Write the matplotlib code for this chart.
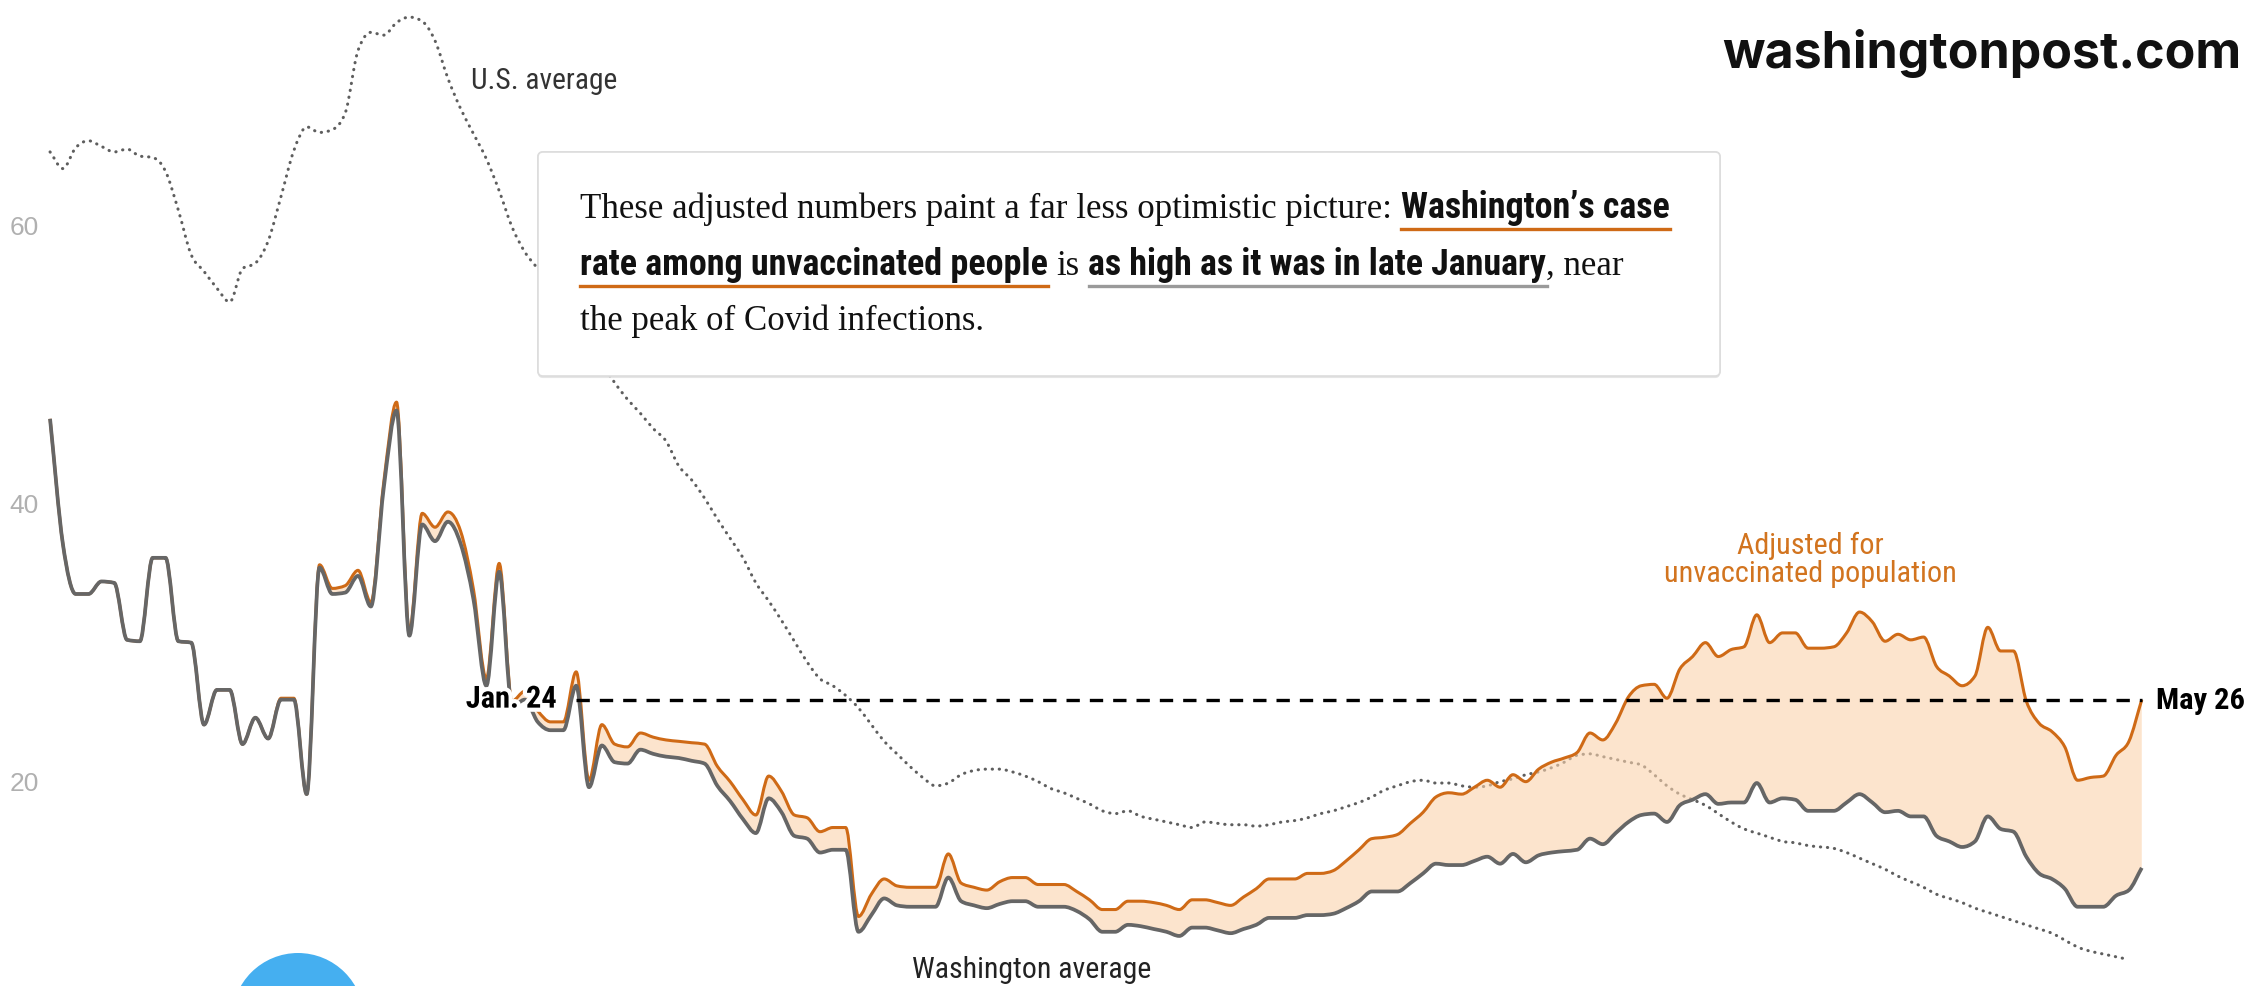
import numpy as np
import pandas as pd
import matplotlib
matplotlib.use('Agg')
import matplotlib.pyplot as plt
import matplotlib.dates as mdates
import matplotlib.patheffects as pe
from matplotlib import font_manager
from matplotlib.patches import FancyBboxPatch, Ellipse, PathPatch
from matplotlib.path import Path
from matplotlib.lines import Line2D

W, H = 2247, 987

# daily 7-day averages, cases per 100k
dates = pd.date_range('2020-12-14', '2021-05-26', freq='D')
us_dates = dates[:-1]

wa_avg = [46.0, 37.0, 33.4, 33.4, 34.3, 34.2, 30.1, 30.0, 36.0, 36.0,
          30.0, 29.9, 24.0, 26.5, 26.5, 22.6, 24.5, 23.0, 25.8, 25.8,
          19.0, 35.3, 33.4, 33.5, 34.7, 32.5, 41.0, 46.6, 30.4, 38.4,
          37.2, 38.6, 37.0, 33.0, 26.8, 35.0, 25.3, 25.8, 24.2, 23.6,
          23.6, 26.8, 19.5, 22.5, 21.3, 21.2, 22.2, 21.9, 21.7, 21.6,
          21.4, 21.2, 19.6, 18.5, 17.2, 16.2, 18.7, 17.7, 16.0, 15.8,
          14.8, 15.0, 15.0, 9.1, 10.3, 11.5, 11.0, 10.9, 10.9, 10.9,
          13.0, 11.3, 11.0, 10.8, 11.1, 11.3, 11.3, 10.9, 10.9, 10.9,
          10.6, 10.0, 9.1, 9.1, 9.6, 9.5, 9.3, 9.1, 8.8, 9.4,
          9.4, 9.2, 9.0, 9.3, 9.6, 10.1, 10.1, 10.1, 10.3, 10.3,
          10.4, 10.8, 11.3, 12.0, 12.0, 12.0, 12.6, 13.3, 14.0, 13.9,
          13.9, 14.2, 14.5, 14.0, 14.7, 14.1, 14.6, 14.8, 14.9, 15.0,
          15.8, 15.4, 16.2, 17.0, 17.5, 17.6, 17.0, 18.2, 18.6, 19.0,
          18.3, 18.4, 18.4, 19.8, 18.4, 18.7, 18.6, 17.8, 17.8, 17.8,
          18.4, 19.0, 18.4, 17.7, 17.8, 17.4, 17.4, 16.0, 15.6, 15.2,
          15.6, 17.4, 16.5, 16.3, 14.5, 13.3, 12.9, 12.2, 10.9, 10.9,
          10.9, 11.7, 12.1, 13.7]

wa_adjusted = [46.0, 37.0, 33.4, 33.4, 34.3, 34.2, 30.1, 30.0, 36.0, 36.0,
               30.0, 29.9, 24.0, 26.5, 26.5, 22.6, 24.5, 23.0, 25.9, 25.9,
               19.0, 35.5, 33.8, 34.0, 35.1, 32.8, 41.4, 47.2, 30.7, 39.2,
               38.2, 39.3, 37.9, 33.7, 27.3, 35.6, 25.7, 26.4, 25.0, 24.2,
               24.2, 27.8, 20.0, 24.0, 22.6, 22.4, 23.4, 23.1, 22.9, 22.8,
               22.7, 22.6, 21.0, 19.9, 18.6, 17.5, 20.3, 19.2, 17.5, 17.3,
               16.3, 16.6, 16.6, 10.2, 11.8, 12.9, 12.4, 12.3, 12.3, 12.3,
               14.7, 12.6, 12.3, 12.1, 12.7, 13.0, 13.0, 12.5, 12.5, 12.5,
               12.0, 11.4, 10.7, 10.7, 11.3, 11.3, 11.2, 11.0, 10.7, 11.4,
               11.4, 11.2, 11.0, 11.6, 12.2, 12.9, 12.9, 12.9, 13.3, 13.3,
               13.5, 14.2, 15.0, 15.8, 15.9, 16.1, 16.9, 17.7, 18.8, 19.1,
               19.0, 19.5, 20.0, 19.5, 20.4, 19.9, 20.8, 21.3, 21.6, 22.0,
               23.4, 22.9, 24.1, 26.0, 26.8, 26.9, 25.9, 28.0, 28.9, 29.9,
               28.9, 29.4, 29.6, 31.9, 29.9, 30.6, 30.6, 29.5, 29.5, 29.6,
               30.6, 32.1, 31.4, 30.0, 30.5, 30.1, 30.3, 28.2, 27.5, 26.8,
               27.5, 31.0, 29.3, 29.3, 25.7, 24.1, 23.5, 22.4, 20.0, 20.2,
               20.3, 21.8, 22.8, 25.8]

us_avg = [65.2, 64.0, 65.5, 66.0, 65.6, 65.2, 65.4, 64.9, 64.8, 63.8,
          61.0, 57.8, 56.6, 55.4, 54.4, 56.8, 57.2, 58.8, 62.0, 65.3,
          67.0, 66.6, 66.8, 68.0, 72.5, 73.8, 73.6, 74.5, 74.9, 74.6,
          73.2, 70.5, 68.3, 66.5, 64.7, 62.4, 59.8, 58.0, 56.8, 55.5,
          54.3, 53.0, 51.6, 50.0, 48.6, 47.4, 46.4, 45.3, 44.4, 42.6,
          41.6, 40.3, 38.8, 37.4, 36.0, 34.2, 32.9, 31.5, 30.0, 28.5,
          27.3, 26.8, 26.1, 25.2, 24.0, 22.8, 21.9, 21.0, 20.2, 19.6,
          19.8, 20.4, 20.7, 20.8, 20.8, 20.6, 20.3, 19.9, 19.4, 19.1,
          18.7, 18.3, 17.8, 17.6, 17.8, 17.4, 17.2, 17.0, 16.8, 16.6,
          17.0, 16.9, 16.8, 16.8, 16.7, 16.8, 17.0, 17.1, 17.3, 17.6,
          17.8, 18.1, 18.4, 18.8, 19.3, 19.6, 19.9, 20.0, 19.8, 19.8,
          19.6, 19.5, 19.6, 19.9, 20.1, 20.4, 20.6, 20.9, 21.3, 21.8,
          21.9, 21.7, 21.5, 21.3, 21.1, 20.4, 19.6, 19.0, 18.6, 18.2,
          17.6, 17.0, 16.5, 16.2, 15.9, 15.6, 15.5, 15.3, 15.2, 15.1,
          14.8, 14.4, 14.0, 13.6, 13.1, 12.7, 12.3, 11.8, 11.5, 11.2,
          10.8, 10.5, 10.2, 9.9, 9.6, 9.3, 9.0, 8.5, 8.0, 7.7,
          7.5, 7.3, 7.1]

y_ticks = [20, 40, 60]
jan24 = pd.Timestamp('2021-01-24')

ORANGE = '#cf6a16'
FILL = '#fbd3ad'
GRAY = '#666666'

names = {f.name for f in font_manager.fontManager.ttflist}
narrow = 'Liberation Sans'
for cand in ['Liberation Sans Narrow', 'Roboto Condensed', 'Open Sans Condensed']:
    if cand in names:
        narrow = cand
        break
serif = 'Liberation Serif' if 'Liberation Serif' in names else 'DejaVu Serif'
brand = 'Inter' if 'Inter' in names else 'Lato'


def monotone_segments(x, y):
    # cubic bezier control points of a monotone-x curve through the points
    x = np.asarray(x, float)
    y = np.asarray(y, float)
    h = np.diff(x)
    s = np.diff(y) / h
    m = np.zeros_like(y)
    m[0], m[-1] = s[0], s[-1]
    for i in range(1, len(y) - 1):
        if s[i - 1] * s[i] <= 0:
            m[i] = 0
        else:
            p = (s[i - 1] * h[i] + s[i] * h[i - 1]) / (h[i - 1] + h[i])
            m[i] = np.sign(s[i]) * min(abs(s[i - 1]), abs(s[i]), 0.5 * abs(p)) * 2
    segs = []
    for i in range(len(y) - 1):
        c1 = (x[i] + h[i] / 3, y[i] + m[i] * h[i] / 3)
        c2 = (x[i + 1] - h[i] / 3, y[i + 1] - m[i + 1] * h[i] / 3)
        segs.append(((x[i], y[i]), c1, c2, (x[i + 1], y[i + 1])))
    return segs


def curve_path(x, y):
    segs = monotone_segments(x, y)
    verts = [segs[0][0]]
    codes = [Path.MOVETO]
    for p0, c1, c2, p1 in segs:
        verts += [c1, c2, p1]
        codes += [Path.CURVE4] * 3
    return Path(verts, codes)


def band_path(x, lo, hi):
    top = monotone_segments(x, hi)
    bot = monotone_segments(x, lo)
    verts = [top[0][0]]
    codes = [Path.MOVETO]
    for p0, c1, c2, p1 in top:
        verts += [c1, c2, p1]
        codes += [Path.CURVE4] * 3
    verts.append(bot[-1][3])
    codes.append(Path.LINETO)
    for p0, c1, c2, p1 in reversed(bot):
        verts += [c2, c1, p0]
        codes += [Path.CURVE4] * 3
    verts.append(top[0][0])
    codes.append(Path.CLOSEPOLY)
    return Path(verts, codes)


fig = plt.figure(figsize=(W / 100, H / 100), dpi=100)
fig.patch.set_facecolor('white')
ax = fig.add_axes([0, 0, 1, 1])
ax.set_facecolor('none')
xd = mdates.date2num(dates)
xu = mdates.date2num(us_dates)
ax.set_xlim(xd[0] - 3.9, xd[0] + 171.2)
ax.set_ylim(5.2, 76.2)
for s in ax.spines.values():
    s.set_visible(False)
ax.set_xticks([])
ax.set_yticks(y_ticks)
ax.tick_params(axis='y', length=0, pad=-7, labelsize=19, labelcolor='#b0b0b0')
for lab in ax.get_yticklabels():
    lab.set_horizontalalignment('left')
    lab.set_family('Liberation Sans')

ax.add_patch(PathPatch(curve_path(xu, us_avg), facecolor='none', edgecolor='#5e5e5e', lw=2.2,
                       linestyle=(0, (0.1, 2.2)), capstyle='round', zorder=1))
ax.add_patch(PathPatch(band_path(xd, wa_avg, wa_adjusted), facecolor=FILL, edgecolor='none',
                       alpha=0.6, zorder=2))
ax.add_patch(PathPatch(curve_path(xd, wa_adjusted), facecolor='none', edgecolor=ORANGE,
                       lw=2.2, joinstyle='round', zorder=3))
ax.add_patch(PathPatch(curve_path(xd, wa_avg), facecolor='none', edgecolor=GRAY,
                       lw=2.7, joinstyle='round', zorder=4))

last = wa_adjusted[-1]
ax.hlines(last, jan24, dates[-1], colors='black', lw=2.4, linestyles=(0, (4, 3)), zorder=5)

renderer = fig.canvas.get_renderer()


def measure(s, **style):
    t = fig.text(0, 0, s, **style)
    w = t.get_window_extent(renderer).width
    t.remove()
    return w


def fit(s, target, **style):
    return 20 * target / measure(s, size=20, **style)


halo = [pe.withStroke(linewidth=6, foreground='white')]
lab_size = fit('Jan. 24', 91, family=narrow, weight='bold')
ax.annotate('Jan. 24', (jan24, last), xytext=(-14, 0), textcoords='offset points',
            ha='right', va='center', weight='bold', size=lab_size, family=narrow,
            path_effects=halo, zorder=6)
ax.annotate('May 26', (dates[-1], last), xytext=(10, 0), textcoords='offset points',
            ha='left', va='center', weight='bold', size=lab_size, family=narrow, zorder=6)

s_us = fit('U.S. average', 146, family=narrow)
fig.text(471 / W, 1 - 81 / H, 'U.S. average', ha='left', va='center', size=s_us,
         family=narrow, color='#333333')
fig.text(1032 / W, 1 - 970 / H, 'Washington average', ha='center', va='center',
         size=fit('Washington average', 239, family=narrow), family=narrow, color='#222222')
s_adj = fit('unvaccinated population', 291, family=narrow)
fig.text(1810 / W, 1 - 546 / H, 'Adjusted for', ha='center', va='center', size=s_adj,
         family=narrow, color='#d2741f')
fig.text(1810 / W, 1 - 574 / H, 'unvaccinated population', ha='center', va='center',
         size=s_adj, family=narrow, color='#d2741f')

# annotation box
box = FancyBboxPatch((5.38, 6.10), 11.82, 2.24, boxstyle='round,pad=0,rounding_size=0.05',
                     transform=fig.dpi_scale_trans, facecolor='white', edgecolor='#dddddd',
                     lw=1.2, zorder=10,
                     path_effects=[pe.withSimplePatchShadow(offset=(0, -1.5), shadow_rgbFace='k',
                                                            alpha=0.10), pe.Normal()])
fig.add_artist(box)

sz_serif = fit('These adjusted numbers paint a far less optimistic picture:', 813, family=serif)
sz_bold = fit('Washington’s case', 269, family=narrow, weight='bold')
st_serif = dict(family=serif, size=sz_serif, color='#111111')
st_bold = dict(family=narrow, size=sz_bold, weight='bold', color='#111111')
sp_serif = measure('a a', **st_serif) - measure('aa', **st_serif)

box_lines = [
    (218, [('These adjusted numbers paint a far less optimistic picture:', st_serif, None),
           (' ', st_serif, None), ('Washington’s case', st_bold, ORANGE)]),
    (275, [('rate among unvaccinated people', st_bold, ORANGE), (' ', st_serif, None),
           ('is', st_serif, None), (' ', st_serif, None),
           ('as high as it was in late January', st_bold, '#9a9a9a'), (', near', st_serif, None)]),
    (330, [('the peak of Covid infections.', st_serif, None)]),
]
for y, segs in box_lines:
    x = 580
    for s, st, ul in segs:
        if s == ' ':
            x += sp_serif
            continue
        t = fig.text(x / W, 1 - y / H, s, ha='left', va='baseline', zorder=12, **st)
        w = t.get_window_extent(renderer).width
        if ul:
            fig.add_artist(Line2D([x / W, (x + w) / W], [1 - (y + 12) / H] * 2, color=ul,
                                  lw=2.4, transform=fig.transFigure, zorder=12))
        x += w

# site mark and corner dot
s_brand = fit('washingtonpost.com', 520, family=brand, weight='bold')
fig.text(2241 / W, 1 - 68 / H, 'washingtonpost.com', ha='right', va='baseline',
         size=s_brand, family=brand, weight='bold', color='#111111', zorder=12)
fig.add_artist(Ellipse((2.98, -0.33), 1.32, 1.32, transform=fig.dpi_scale_trans,
                       facecolor='#45aff0', edgecolor='none', zorder=12))

fig.savefig('out.png', dpi=100, facecolor='white')
